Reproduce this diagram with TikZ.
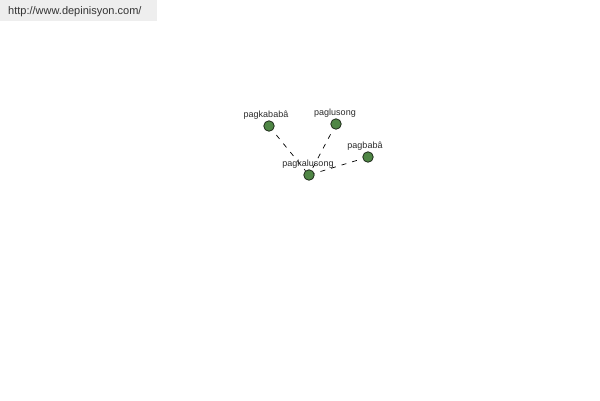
\documentclass[tikz,border=0pt]{standalone}
\usepackage{fontspec}
\setmainfont{Liberation Sans}
\definecolor{nodegreen}{HTML}{4F8645}
\definecolor{edgedark}{HTML}{1E2A1A}
\definecolor{bargray}{HTML}{EEEEEE}
\definecolor{urltext}{HTML}{333333}
\definecolor{labeltext}{HTML}{2A2A2A}
\tikzset{
  dot/.style={circle,draw=edgedark,fill=nodegreen,line width=0.8pt,minimum size=10.5pt,inner sep=0pt},
  lbl/.style={font=\fontsize{9}{9}\selectfont,text=labeltext,inner sep=0pt},
  link/.style={draw=black,dash pattern=on 5pt off 6pt,dash phase=5pt,line width=0.7pt}
}
\begin{document}
\begin{tikzpicture}[x=1pt,y=-1pt]
\useasboundingbox (0,0) rectangle (600,400);
\fill[bargray] (0,0) rectangle (157,21);
\node[anchor=west,font=\fontsize{11}{11}\selectfont,text=urltext,inner sep=0pt] (url) at (8,11.5) {http://www.depinisyon.com/};
\node[dot] (c) at (309,175) {};
\node[dot] (a) at (269,126) {};
\node[dot] (b) at (336,124) {};
\node[dot] (d) at (368,157) {};
\draw[link] (a) -- (c);
\draw[link] (b) -- (c);
\draw[link] (d) -- (c);
\node[lbl] (la) at (266,115) {pagkababâ};
\node[lbl] (lb) at (335,113) {paglusong};
\node[lbl] (ld) at (365,146) {pagbabâ};
\node[lbl] (lc) at (308,164) {pagkalusong};
\end{tikzpicture}
\end{document}
